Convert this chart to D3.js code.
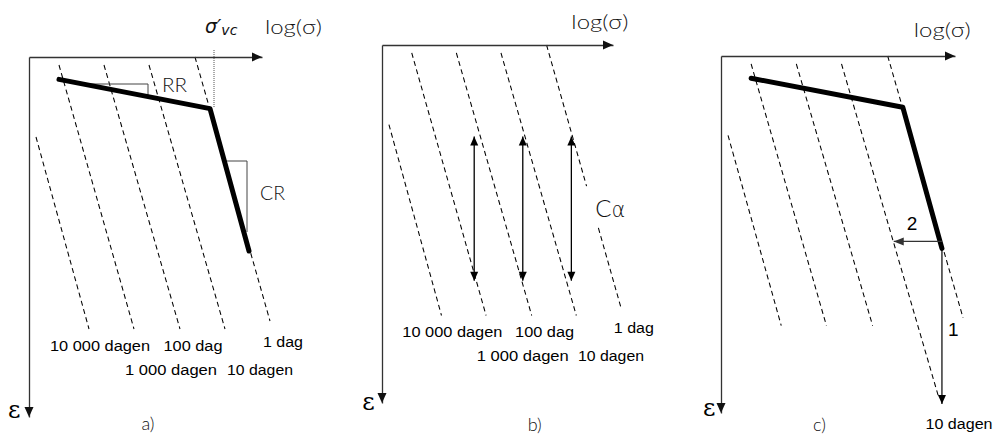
<!DOCTYPE html>
<html><head><meta charset="utf-8">
<script src="https://cdn.jsdelivr.net/npm/d3@7"></script>
<style>html,body{margin:0;padding:0;background:#fff;} svg{display:block}</style>
</head><body>
<svg id="chart" width="993" height="439"></svg>
<script>
// ---------------- data (log(sigma) units along x, strain units along y) ----------------
const panelNames = ["a)", "b)", "c)"];
const isoLabels  = ["10 000 dagen", "1 000 dagen", "100 dag", "10 dagen", "1 dag"];
const isoTopLogS = [0.35, 1.5, 3.75, 6.0, 8.3];
const isoTopEps  = [4.0, 0.4, 0.4, 0.4, 0.0];
const isoBotLogS = [3.0, 5.25, 7.55, 9.8, 12.05];
const isoBotEps  = [13.6, 13.6, 13.6, 13.6, 13.2];
const pathLogS   = [1.5, 9.05, 11.0];          // loading path (RR then CR)
const pathEps    = [1.12, 2.58, 9.7];
const precLogS   = [9.25, 9.25];               // sigma'_vc marker
const precEps    = [-0.35, 2.5];
const rrLogS     = [2.7, 5.95, 5.95];
const rrEps      = [1.35, 1.35, 1.98];
const crLogS     = [9.77, 10.9, 10.9];
const crEps      = [5.2, 5.2, 8.75];
const caLogS     = [4.65, 7.1, 9.55];          // C-alpha double arrows (panel b)
const caEps      = [4.6, 11.85];
const caGapEps   = [7.1, 9.2];                 // gap in '1 dag' line for label
const step2LogS  = [11.0, 8.6];                // panel c arrow 2
const step2Eps   = [9.35, 9.35];
const step1LogS  = [11.0, 11.0];               // panel c arrow 1
const step1Eps   = [9.7, 17.55];
const cExtendEps = 17.2;                       // '10 dagen' line extended in panel c

// ---------------- layout ----------------
const xDomain = [0, 11.65], yDomain = [0, 18];
const frames = [
  {ox: 29,  oy: 57, xe: 262, ye: 417},
  {ox: 382, oy: 45, xe: 613, ye: 403},
  {ox: 721, oy: 56, xe: 955, ye: 413}
];
const isoLabelPos = [[3.55, 14.7], [7.1, 15.9], [8.2, 14.7], [11.55, 15.9], [12.7, 14.5]];
const isoLabelW = [100, 92, 59, 66, 40];
const logLabelPos = [[11.8, -1.15], [9.55, -0.8], [9.6, -0.95]];
const epsLabelPos = [[-1.05, 18.05], [-1.0, 18.35], [-0.9, 18.15]];
const subLabelPos = [[5.95, 18.65], [7.7, 19.4], [4.9, 18.9]];

const svg = d3.select("#chart");
const lightFont = "Lato, 'Open Sans', sans-serif";
const sansFont = "'Liberation Sans', Arial, sans-serif";
const txtCol = "#111";

function head(g, tx, ty, fx, fy, len, hw, color) {
  const L = Math.hypot(tx - fx, ty - fy) || 1;
  const dx = (tx - fx) / L, dy = (ty - fy) / L;
  const nx = -dy, ny = dx;
  const bx = tx - dx * len, by = ty - dy * len;
  g.append("path")
    .attr("d", `M${tx},${ty}L${bx + nx * hw},${by + ny * hw}L${bx - nx * hw},${by - ny * hw}Z`)
    .attr("fill", color);
}
function arrowLine(g, x1, y1, x2, y2, color, w, len, hw, both) {
  g.append("line").attr("x1", x1).attr("y1", y1).attr("x2", x2).attr("y2", y2)
    .attr("stroke", color).attr("stroke-width", w);
  head(g, x2, y2, x1, y1, len, hw, color);
  if (both) head(g, x1, y1, x2, y2, len, hw, color);
}
function along(k, e) {
  const t = (e - isoTopEps[k]) / (isoBotEps[k] - isoTopEps[k]);
  return [isoTopLogS[k] + t * (isoBotLogS[k] - isoTopLogS[k]), e];
}

frames.forEach((f, i) => {
  const x = d3.scaleLinear().domain(xDomain).range([f.ox, f.xe]);
  const y = d3.scaleLinear().domain(yDomain).range([f.oy, f.ye]);
  const line = d3.line().x(d => x(d[0])).y(d => y(d[1]));
  const g = svg.append("g");

  // isochrones (dashed)
  isoTopLogS.forEach((t, k) => {
    let segs = [[[isoTopLogS[k], isoTopEps[k]], [isoBotLogS[k], isoBotEps[k]]]];
    if (i === 2 && k === 3) segs = [[[isoTopLogS[k], isoTopEps[k]], along(k, cExtendEps)]];
    if (i === 1 && k === 4) segs = [
      [[isoTopLogS[k], isoTopEps[k]], along(k, caGapEps[0])],
      [along(k, caGapEps[1]), [isoBotLogS[k], isoBotEps[k]]]
    ];
    segs.forEach(s => g.append("path").attr("d", line(s))
      .attr("fill", "none").attr("stroke", "#000").attr("stroke-width", 1.05)
      .attr("stroke-dasharray", "5,3.5"));
  });

  // isochrone labels (panels a and b)
  if (i < 2) {
    isoLabels.forEach((lab, k) => {
      g.append("text").attr("x", x(isoLabelPos[k][0])).attr("y", y(isoLabelPos[k][1]))
        .attr("text-anchor", "middle").attr("font-family", sansFont).attr("font-size", 14)
        .attr("textLength", isoLabelW[k]).attr("lengthAdjust", "spacingAndGlyphs")
        .attr("fill", "#000").text(lab);
    });
  } else {
    g.append("text").attr("x", x(11.85)).attr("y", y(18.8))
      .attr("text-anchor", "middle").attr("font-family", sansFont).attr("font-size", 14)
      .attr("textLength", 67).attr("lengthAdjust", "spacingAndGlyphs")
      .attr("fill", "#000").text(isoLabels[3]);
  }

  // panel a extras: triangles and sigma'_vc
  if (i === 0) {
    g.append("path").attr("d", line(rrLogS.map((v, j) => [v, rrEps[j]])))
      .attr("fill", "none").attr("stroke", "#444").attr("stroke-width", 1);
    g.append("path").attr("d", line(crLogS.map((v, j) => [v, crEps[j]])))
      .attr("fill", "none").attr("stroke", "#444").attr("stroke-width", 1);
    g.append("path").attr("d", line(precLogS.map((v, j) => [v, precEps[j]])))
      .attr("fill", "none").attr("stroke", "#555").attr("stroke-width", 1)
      .attr("stroke-dasharray", "1,1");
    g.append("text").attr("x", x(6.65)).attr("y", y(1.75))
      .attr("font-family", lightFont).attr("font-weight", 300).attr("font-size", 19)
      .attr("textLength", 25).attr("lengthAdjust", "spacingAndGlyphs").attr("fill", txtCol).text("RR");
    g.append("text").attr("x", x(11.55)).attr("y", y(7.15))
      .attr("font-family", lightFont).attr("font-weight", 300).attr("font-size", 19)
      .attr("textLength", 25).attr("lengthAdjust", "spacingAndGlyphs").attr("fill", txtCol).text("CR");
    const sv = g.append("text").attr("x", x(8.8)).attr("y", y(-1.2))
      .attr("font-family", "'DejaVu Sans', sans-serif").attr("font-style", "italic")
      .attr("font-weight", 300).attr("fill", "#111");
    sv.append("tspan").attr("font-size", 19).text("σ′");
    sv.append("tspan").attr("font-size", 14).attr("dy", 2).text("vc");
  }

  // loading path (panels a and c)
  if (i !== 1) {
    g.append("path").attr("d", line(pathLogS.map((v, j) => [v, pathEps[j]])))
      .attr("fill", "none").attr("stroke", "#000").attr("stroke-width", 5)
      .attr("stroke-linecap", "round").attr("stroke-linejoin", "round");
  }

  // panel b: C-alpha arrows
  if (i === 1) {
    caLogS.forEach(v => arrowLine(g, x(v), y(caEps[0]), x(v), y(caEps[1]), "#000", 1.3, 9, 4, true));
    const ca = g.append("text").attr("x", x(10.75)).attr("y", y(8.65))
      .attr("font-size", 24).attr("fill", txtCol);
    ca.append("tspan").attr("font-family", lightFont).attr("font-weight", 300).text("C");
    ca.append("tspan").attr("font-family", "'DejaVu Sans', sans-serif").attr("font-weight", 200)
      .attr("font-size", 21).text("α");
  }

  // panel c: steps 1 and 2
  if (i === 2) {
    arrowLine(g, x(step2LogS[0]), y(step2Eps[0]), x(step2LogS[1]), y(step2Eps[1]), "#333", 1.3, 10, 4, false);
    arrowLine(g, x(step1LogS[0]), y(step1Eps[0]), x(step1LogS[1]), y(step1Eps[1]), "#000", 1.2, 9, 4, false);
    g.append("text").attr("x", x(9.25)).attr("y", y(8.75))
      .attr("font-family", sansFont).attr("font-size", 19).attr("fill", "#000").text("2");
    g.append("text").attr("x", x(11.3)).attr("y", y(14.1))
      .attr("font-family", sansFont).attr("font-size", 19).attr("fill", "#000").text("1");
  }

  // axes
  const ax = g.append("g").attr("transform", `translate(0,${y(0)})`)
    .call(d3.axisTop(x).ticks(0).tickSizeOuter(0));
  const ay = g.append("g").attr("transform", `translate(${x(0)},0)`)
    .call(d3.axisLeft(y).ticks(0).tickSizeOuter(0));
  [ax, ay].forEach(a => a.select(".domain").attr("stroke", "#333").attr("stroke-width", 1.3));
  head(g, x(xDomain[1]), y(0), x(0), y(0), 10, 4.5, "#111");
  head(g, x(0), y(yDomain[1]), x(0), y(0), 10, 4.5, "#111");

  // axis labels
  g.append("text").attr("x", x(logLabelPos[i][0])).attr("y", y(logLabelPos[i][1]))
    .attr("font-family", lightFont).attr("font-weight", 300).attr("font-size", 19)
    .attr("textLength", 57).attr("lengthAdjust", "spacingAndGlyphs").attr("fill", txtCol).text("log(σ)");
  g.append("text").attr("x", x(epsLabelPos[i][0])).attr("y", y(epsLabelPos[i][1]))
    .attr("font-family", "'DejaVu Serif', serif").attr("font-size", 24)
    .attr("fill", "#000").text("ε");
  g.append("text").attr("x", x(subLabelPos[i][0])).attr("y", y(subLabelPos[i][1]))
    .attr("text-anchor", "middle")
    .attr("font-family", lightFont).attr("font-weight", 300).attr("font-size", 18)
    .attr("fill", txtCol).text(panelNames[i]);
});
</script>
</body></html>
